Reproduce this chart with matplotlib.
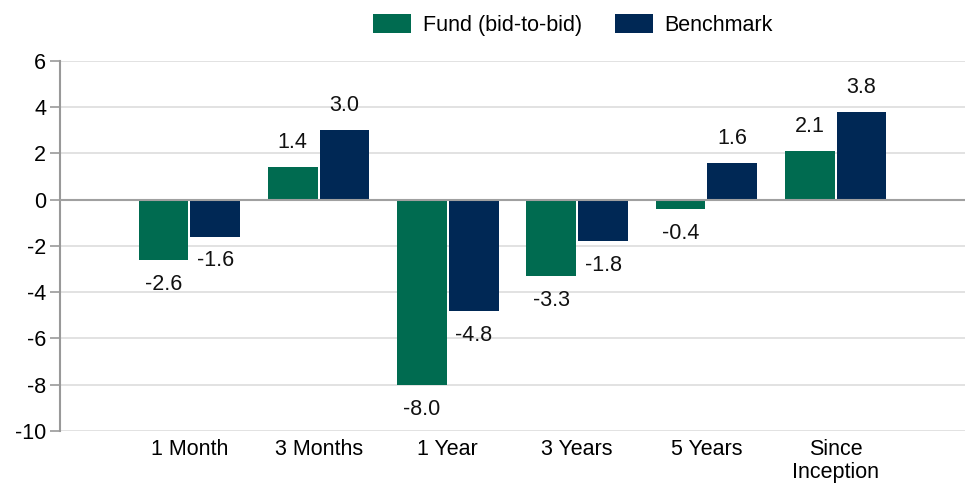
import matplotlib
matplotlib.use("Agg")
import matplotlib.pyplot as plt
import numpy as np

categories = ["1 Month", "3 Months", "1 Year", "3 Years", "5 Years", "Since\nInception"]
fund = [-2.6, 1.4, -8.0, -3.3, -0.4, 2.1]
benchmark = [-1.6, 3.0, -4.8, -1.8, 1.6, 3.8]
series_names = ["Fund (bid-to-bid)", "Benchmark"]
yticks = [-10, -8, -6, -4, -2, 0, 2, 4, 6]

plt.rcParams['font.family'] = ['Liberation Sans', 'DejaVu Sans']
FS = 15.5

fig = plt.figure(figsize=(9.69, 4.84), dpi=100)
ax = fig.add_axes([60/969, 53/484, 905/969, 370.3/484])

green = "#006B50"
navy = "#002855"
x = np.arange(1, len(categories) + 1)
w = 0.385
off = 0.2
b1 = ax.bar(x - off, fund, w, color=green, label=series_names[0], zorder=3)
b2 = ax.bar(x + off, benchmark, w, color=navy, label=series_names[1], zorder=3)

for bars, vals in ((b1, fund), (b2, benchmark)):
    for rect, v in zip(bars, vals):
        cx = rect.get_x() + rect.get_width() / 2
        if v >= 0:
            ax.annotate(f"{v:.1f}", (cx, v), xytext=(0, 10), textcoords="offset points",
                        ha="center", va="bottom", fontsize=FS, color="#111111")
        else:
            ax.annotate(f"{v:.1f}", (cx, v), xytext=(0, -10), textcoords="offset points",
                        ha="center", va="top", fontsize=FS, color="#111111")

ax.set_xlim(0, 7)
ax.set_ylim(-10, 6)
ax.set_yticks(yticks)
ax.set_yticklabels([str(t) for t in yticks], fontsize=FS)
ax.set_xticks(x)
ax.set_xticklabels(categories, fontsize=FS, linespacing=1.1)
ax.tick_params(axis="x", length=0, pad=6)
ax.tick_params(axis="y", length=7, color="#999999", width=1.2, pad=3)

for t in yticks:
    if t == 0:
        continue
    ax.axhline(t, color="#DDDDDD", lw=1.2, zorder=1)
ax.axhline(0, color="#A0A0A0", lw=1.5, zorder=4)

for s in ["top", "right", "bottom"]:
    ax.spines[s].set_visible(False)
ax.spines["left"].set_color("#999999")
ax.spines["left"].set_linewidth(1.5)

fig.legend(handles=[b1, b2], labels=series_names, loc="center", bbox_to_anchor=(573/969, 1 - 25/484),
           ncol=2, frameon=False, fontsize=FS, handlelength=1.77, handleheight=0.95,
           columnspacing=1.5, handletextpad=0.55)

fig.savefig("out.png", dpi=100)
